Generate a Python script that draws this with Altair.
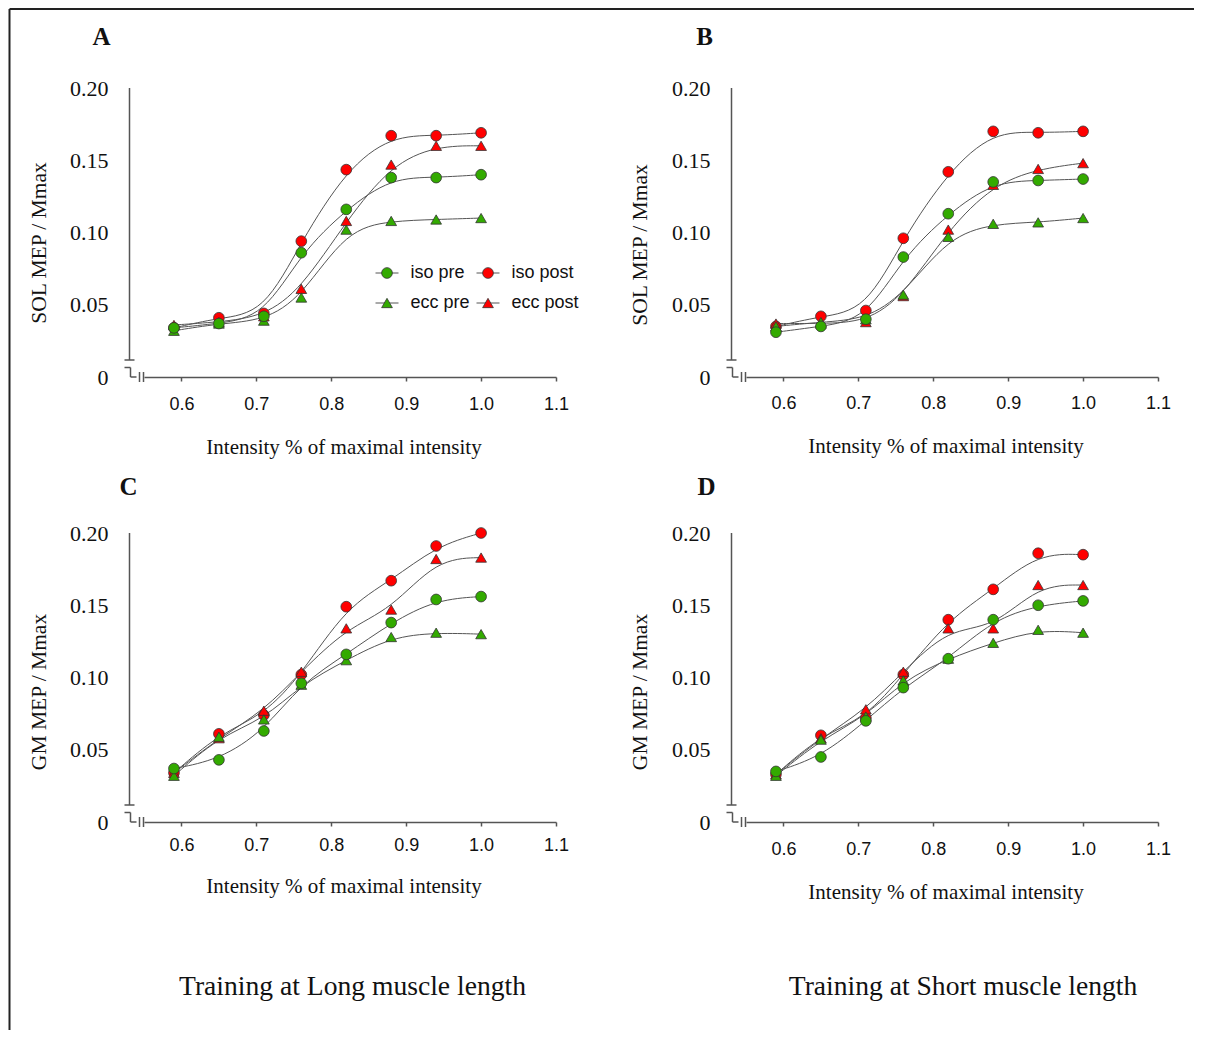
import altair as alt
import pandas as pd

# ---------------- data ----------------
x_vals = [0.59, 0.65, 0.71, 0.76, 0.82, 0.88, 0.94, 1.00]
series_names = ["iso pre", "iso post", "ecc pre", "ecc post"]
draw_order = ["iso post", "ecc post", "ecc pre", "iso pre"]

A_iso_pre = [0.034, 0.037, 0.042, 0.086, 0.116, 0.138, 0.138, 0.140]
A_iso_post = [0.034, 0.041, 0.044, 0.094, 0.1435, 0.167, 0.167, 0.169]
A_ecc_pre = [0.032, 0.037, 0.039, 0.055, 0.102, 0.108, 0.109, 0.110]
A_ecc_post = [0.036, 0.038, 0.042, 0.061, 0.108, 0.147, 0.160, 0.160]

B_iso_pre = [0.031, 0.035, 0.040, 0.083, 0.113, 0.135, 0.136, 0.137]
B_iso_post = [0.035, 0.042, 0.046, 0.096, 0.142, 0.170, 0.169, 0.170]
B_ecc_pre = [0.035, 0.038, 0.040, 0.057, 0.097, 0.106, 0.107, 0.110]
B_ecc_post = [0.037, 0.037, 0.038, 0.056, 0.102, 0.133, 0.144, 0.148]

C_iso_pre = [0.037, 0.043, 0.063, 0.096, 0.116, 0.138, 0.154, 0.156]
C_iso_post = [0.034, 0.061, 0.074, 0.102, 0.149, 0.167, 0.191, 0.200]
C_ecc_pre = [0.032, 0.059, 0.071, 0.095, 0.112, 0.128, 0.131, 0.130]
C_ecc_post = [0.034, 0.058, 0.077, 0.104, 0.134, 0.147, 0.182, 0.183]

D_iso_pre = [0.035, 0.045, 0.070, 0.093, 0.113, 0.140, 0.150, 0.153]
D_iso_post = [0.033, 0.060, 0.072, 0.102, 0.140, 0.161, 0.186, 0.185]
D_ecc_pre = [0.032, 0.057, 0.073, 0.098, 0.113, 0.124, 0.133, 0.131]
D_ecc_post = [0.033, 0.058, 0.078, 0.104, 0.134, 0.134, 0.164, 0.164]

x_ticks = [0.6, 0.7, 0.8, 0.9, 1.0, 1.1]
y_ticks = [0, 0.05, 0.10, 0.15, 0.20]

panel_letters = ["A", "B", "C", "D"]
y_titles = ["SOL MEP / Mmax", "SOL MEP / Mmax", "GM MEP / Mmax", "GM MEP / Mmax"]
x_title = "Intensity % of maximal intensity"
bottom_texts = ["Training at Long muscle length", "Training at Short muscle length"]

GREEN = "#33aa00"
RED = "#ff0000"
AXIS_COLOR = "#555555"
W, H = 412, 289

fill_scale = alt.Scale(domain=series_names, range=[GREEN, RED, GREEN, RED])
shape_scale = alt.Scale(domain=series_names,
                        range=["circle", "circle", "triangle-up", "triangle-up"])


def make_df(vals):
    rows = []
    for s in draw_order:
        for xv, yv in zip(x_vals, vals[s]):
            rows.append({"x": xv, "y": yv, "series": s})
    return pd.DataFrame(rows)


one = pd.DataFrame({"k": [0]})


def deco_rule(x, y, x2=None, y2=None, color=AXIS_COLOR, width=1.5):
    enc = {"x": alt.value(x), "y": alt.value(y)}
    if x2 is not None:
        enc["x2"] = alt.value(x2)
    if y2 is not None:
        enc["y2"] = alt.value(y2)
    return alt.Chart(one).mark_rule(color=color, strokeWidth=width).encode(**enc)


def panel(idx, vals, label_pad, title_pad, letter_pos, ytitle_pos, bottom=None,
          legend=False, frame=False):
    df = make_df(vals)
    base = alt.Chart(df)
    xenc = alt.X("x:Q",
                 scale=alt.Scale(domain=[0.55, 1.1], nice=False, zero=False),
                 axis=alt.Axis(values=x_ticks, format=".1f", title=x_title,
                               grid=False, domainColor=AXIS_COLOR, domainWidth=1.5,
                               tickColor=AXIS_COLOR, tickWidth=1.5, tickSize=4,
                               labelFlush=False, labelOverlap=False,
                               labelFont="Liberation Sans", labelFontSize=18,
                               labelColor="#111", labelPadding=label_pad,
                               titleFont="Liberation Serif", titleFontSize=21,
                               titleFontWeight="normal", titleColor="#111",
                               titlePadding=title_pad, titleX=199.5))
    yenc = alt.Y("y:Q",
                 scale=alt.Scale(domain=[0, 0.2], nice=False),
                 axis=alt.Axis(values=y_ticks, domain=False, ticks=False, tickSize=0,
                               grid=False, title=None,
                               labelExpr="datum.value == 0 ? '0' : format(datum.value, '.2f')",
                               labelFont="Liberation Serif", labelFontSize=22,
                               labelColor="#111", labelPadding=36))
    curves = base.mark_line(interpolate="basis", color="#555555", strokeWidth=1).encode(
        x=xenc, y=yenc, detail="series:N")
    pts = base.mark_point(filled=True, size=115, stroke="#333333", strokeWidth=0.8,
                          opacity=1).encode(
        x="x:Q", y="y:Q",
        shape=alt.Shape("series:N", scale=shape_scale, legend=None),
        fill=alt.Fill("series:N", scale=fill_scale, legend=None))

    layers = [curves, pts]
    # y axis line with break marks
    layers += [
        deco_rule(-14.5, 0, y2=272),
        deco_rule(-19.5, 272, x2=-9.5),
        deco_rule(-19.5, 279.5, x2=-13.5),
        deco_rule(-13.5, 279.5, y2=289),
        deco_rule(-13.5, 289, x2=-7.5),
        deco_rule(-4.5, 284, y2=294),
        deco_rule(-0.5, 284, y2=294),
    ]
    # panel letter
    layers.append(alt.Chart(one).mark_text(
        text=panel_letters[idx], font="Liberation Serif", fontSize=25,
        fontWeight="bold", color="#111", align="center", baseline="middle").encode(
        x=alt.value(letter_pos[0]), y=alt.value(letter_pos[1])))
    # y title
    layers.append(alt.Chart(one).mark_text(
        text=y_titles[idx], font="Liberation Serif", fontSize=21.5, color="#111",
        angle=270, align="center", baseline="middle").encode(
        x=alt.value(ytitle_pos[0]), y=alt.value(ytitle_pos[1])))
    if bottom is not None:
        layers.append(alt.Chart(one).mark_text(
            text=bottom[0], font="Liberation Serif", fontSize=27.6, color="#111",
            align="center", baseline="middle").encode(
            x=alt.value(bottom[1]), y=alt.value(bottom[2])))
    if legend:
        cols = [231.5, 332.5]
        rows_y = [185, 215]
        shapes = ["circle", "circle", "triangle-up", "triangle-up"]
        fills = [GREEN, RED, GREEN, RED]
        for i, s in enumerate(series_names):
            cx = cols[i % 2]
            cy = rows_y[i // 2]
            layers.append(deco_rule(cx, cy, x2=cx + 23, color="#555555", width=1))
            layers.append(alt.Chart(one).mark_point(
                filled=True, size=115, shape=shapes[i], fill=fills[i],
                stroke="#333333", strokeWidth=0.8, opacity=1).encode(
                x=alt.value(cx + 11.5), y=alt.value(cy)))
            layers.append(alt.Chart(one).mark_text(
                text=s, font="Liberation Sans", fontSize=18, color="#111",
                align="left", baseline="middle").encode(
                x=alt.value(cx + 35), y=alt.value(cy)))
    if frame:
        layers.append(deco_rule(-134.5, -79, y2=942, color="#222222", width=2))
        layers.append(deco_rule(-134.5, -79, x2=1050, color="#222222", width=2))
    return alt.layer(*layers).properties(width=W, height=H)


pA = panel(0, {"iso pre": A_iso_pre, "iso post": A_iso_post,
               "ecc pre": A_ecc_pre, "ecc post": A_ecc_post},
           14, 23, (-42.5, -51), (-104, 155), legend=True, frame=True)
pB = panel(1, {"iso pre": B_iso_pre, "iso post": B_iso_post,
               "ecc pre": B_ecc_pre, "ecc post": B_ecc_post},
           13, 23, (-41.5, -51), (-105.5, 157))
pC = panel(2, {"iso pre": C_iso_pre, "iso post": C_iso_post,
               "ecc pre": C_ecc_pre, "ecc post": C_ecc_post},
           10, 21, (-15.5, -46), (-104, 159),
           bottom=(bottom_texts[0], 208.5, 454))
pD = panel(3, {"iso pre": D_iso_pre, "iso post": D_iso_post,
               "ecc pre": D_ecc_pre, "ecc post": D_ecc_post},
           14, 23, (-39.5, -46), (-105.5, 159),
           bottom=(bottom_texts[1], 217, 454))

chart = alt.concat(pA, pB, pC, pD, columns=2,
                   spacing={"row": 156, "column": 190},
                   bounds="flush").properties(
    padding={"left": 0, "top": 0, "right": 0, "bottom": 0},
    background="white"
).configure_view(stroke=None)

chart.save("out.html", embed_options={"renderer": "svg", "actions": False})
